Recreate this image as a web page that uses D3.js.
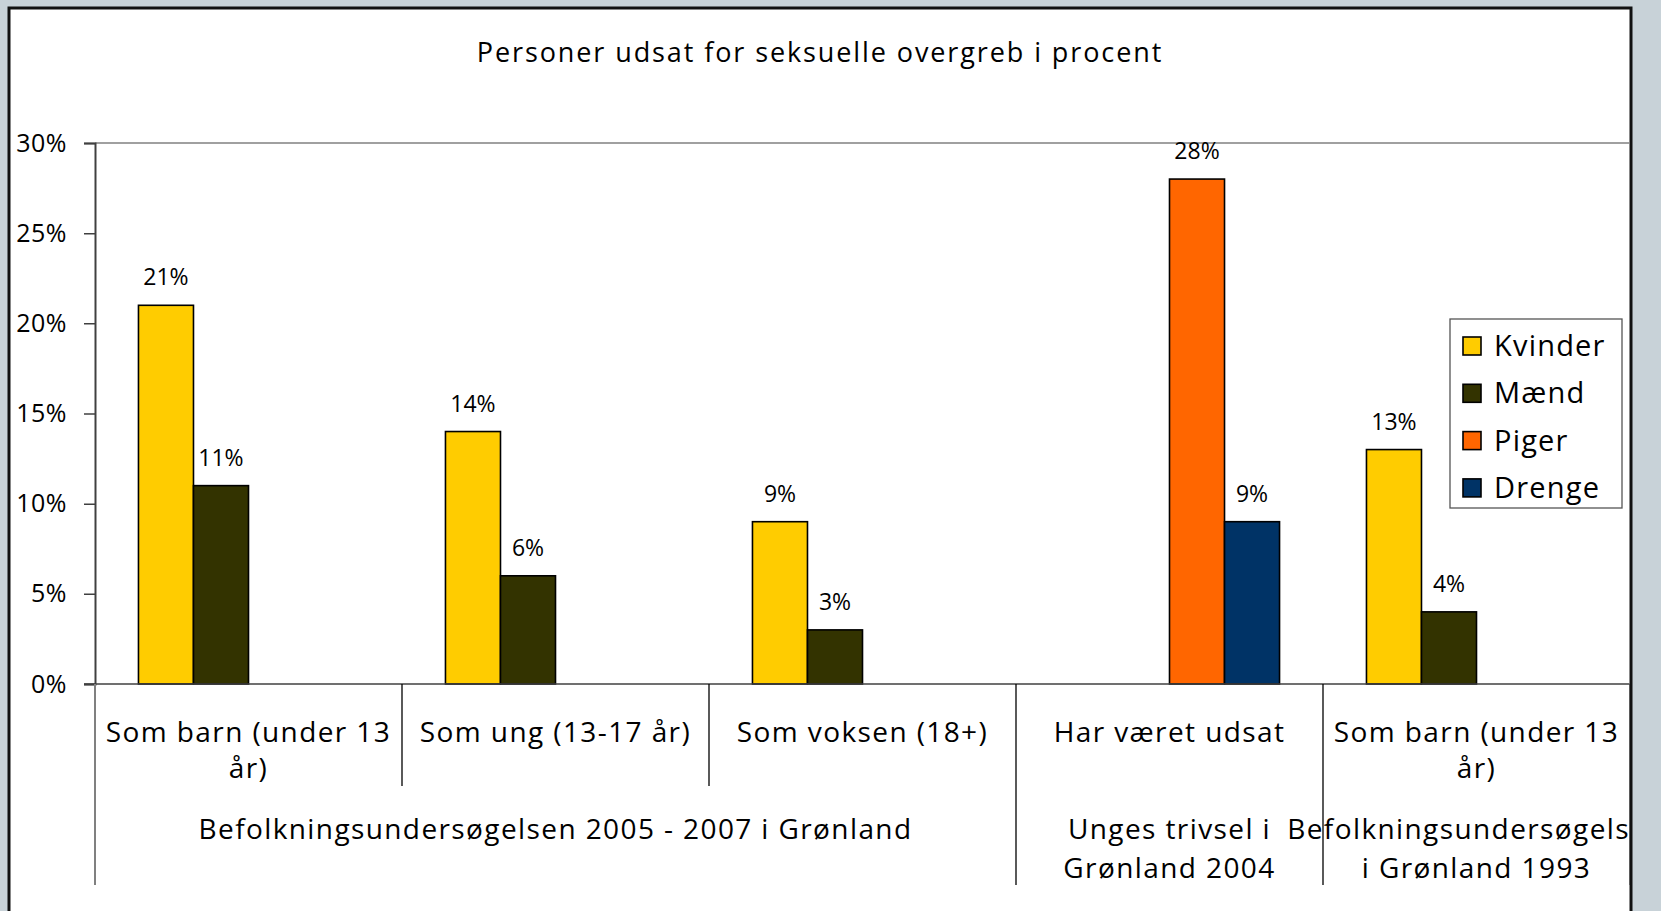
<!DOCTYPE html>
<html lang="da">
  <head>
    <meta charset="UTF-8" />
    <script src="https://d3js.org/d3.v7.min.js"></script>
    <title>Personer udsat for seksuelle overgreb</title>
    <style type="text/css">
      body {
        margin: 0;
        background: #c8d2d8;
      }
      svg text {
        font-family: 'Open Sans', sans-serif;
        fill: #000;
      }
      .chart-title {
        font-size: 27px;
        letter-spacing: 1.9px;
      }
      .tick text {
        font-size: 25px;
        letter-spacing: 0.5px;
      }
      .bar-label {
        font-size: 23px;
      }
      .cat-label,
      .group-label {
        font-size: 28px;
        letter-spacing: 1.4px;
      }
      .legend-text {
        font-size: 29px;
        letter-spacing: 1.2px;
      }
    </style>
  </head>
  <body>
    <svg width="1661" height="911"></svg>
  </body>
  <script type="text/javascript">
    // data
    const categories = ['Som barn (under 13 år)', 'Som ung (13-17 år)', 'Som voksen (18+)', 'Har været udsat', 'Som barn (under 13 år) 1993'];
    const categoryLines = [['Som barn (under 13', 'år)'], ['Som ung (13-17 år)'], ['Som voksen (18+)'], ['Har været udsat'], ['Som barn (under 13', 'år)']];
    const seriesNames = ['Kvinder', 'Mænd', 'Piger', 'Drenge'];
    const kvinder = [21, 14, 9, null, 13];
    const maend = [11, 6, 3, null, 4];
    const piger = [null, null, null, 28, null];
    const drenge = [null, null, null, 9, null];
    const groupLines = [
      ['Befolkningsundersøgelsen 2005 - 2007 i Grønland'],
      ['Unges trivsel i', 'Grønland 2004'],
      ['Befolkningsundersøgelsen', 'i Grønland 1993'],
    ];
    const groupSizes = [3, 1, 1];
    const yTicks = [0, 5, 10, 15, 20, 25, 30];
    const colors = ['#ffcc00', '#333300', '#ff6600', '#003366'];

    const seriesValues = [kvinder, maend, piger, drenge];

    const svg = d3.select('svg');

    // frame
    const frame = { left: 9, top: 8, right: 1631, bottom: 930 };
    svg
      .append('rect')
      .attr('x', frame.left)
      .attr('y', frame.top)
      .attr('width', frame.right - frame.left)
      .attr('height', frame.bottom - frame.top)
      .attr('fill', '#fff')
      .attr('stroke', '#111')
      .attr('stroke-width', 3);

    svg
      .append('clipPath')
      .attr('id', 'frame-clip')
      .append('rect')
      .attr('x', frame.left + 1.5)
      .attr('y', frame.top + 1.5)
      .attr('width', frame.right - frame.left - 3)
      .attr('height', frame.bottom - frame.top);

    const g = svg.append('g').attr('clip-path', 'url(#frame-clip)');

    const plot = { left: 95, right: 1630, top: 143, bottom: 684 };

    // title
    g.append('text')
      .attr('class', 'chart-title')
      .attr('x', (frame.left + frame.right) / 2)
      .attr('y', 53)
      .attr('dy', '0.35em')
      .attr('text-anchor', 'middle')
      .text('Personer udsat for seksuelle overgreb i procent');

    // scales
    const xScale = d3.scaleBand().domain(categories).range([plot.left, plot.right]).padding(0);
    const xInner = d3.scaleBand().domain(seriesNames).range([0, xScale.bandwidth()]).paddingInner(0).paddingOuter(0.79);
    const yScale = d3.scaleLinear().domain([0, 30]).range([plot.bottom, plot.top]);
    const colorScale = d3.scaleOrdinal().domain(seriesNames).range(colors);

    // top border line of plot area
    g.append('line')
      .attr('x1', plot.left)
      .attr('x2', plot.right)
      .attr('y1', yScale(30))
      .attr('y2', yScale(30))
      .attr('stroke', '#808080')
      .attr('stroke-width', 1.5);

    // y axis
    const yAxis = g
      .append('g')
      .attr('transform', `translate(${plot.left}, 0)`)
      .call(
        d3
          .axisLeft(yScale)
          .tickValues(yTicks)
          .tickSize(11)
          .tickPadding(17)
          .tickFormat((d) => d + '%')
      );
    yAxis.select('.domain').attr('stroke', '#404040').attr('stroke-width', 2);
    yAxis.selectAll('.tick line').attr('stroke', '#404040').attr('stroke-width', 1.5);
    yAxis.selectAll('.tick text').attr('fill', '#000').style('font-family', "'Open Sans', sans-serif");

    // bars
    const barData = [];
    seriesNames.forEach((s, si) => {
      categories.forEach((c, ci) => {
        const v = seriesValues[si][ci];
        if (v != null) barData.push({ series: s, category: c, value: v });
      });
    });

    g.selectAll('rect.bar')
      .data(barData)
      .enter()
      .append('rect')
      .attr('class', 'bar')
      .attr('x', (d) => xScale(d.category) + xInner(d.series))
      .attr('y', (d) => yScale(d.value))
      .attr('width', xInner.bandwidth())
      .attr('height', (d) => yScale(0) - yScale(d.value))
      .attr('fill', (d) => colorScale(d.series))
      .attr('stroke', '#000')
      .attr('stroke-width', 1.6);

    g.selectAll('text.bar-label')
      .data(barData)
      .enter()
      .append('text')
      .attr('class', 'bar-label')
      .attr('x', (d) => xScale(d.category) + xInner(d.series) + xInner.bandwidth() / 2)
      .attr('y', (d) => yScale(d.value) - 28)
      .attr('dy', '0.35em')
      .attr('text-anchor', 'middle')
      .text((d) => d.value + '%');

    // x axis baseline
    g.append('line')
      .attr('x1', plot.left - 11)
      .attr('x2', plot.right)
      .attr('y1', plot.bottom)
      .attr('y2', plot.bottom)
      .attr('stroke', '#404040')
      .attr('stroke-width', 1.5);

    // category separators
    const groupStarts = [];
    let acc = 0;
    groupSizes.forEach((n) => {
      groupStarts.push(acc);
      acc += n;
    });
    const shortBottom = 786;
    const longBottom = 885;
    d3.range(categories.length + 1).forEach((i) => {
      const x = i < categories.length ? xScale(categories[i]) : plot.right;
      const isGroupEdge = groupStarts.includes(i) || i === categories.length;
      g.append('line')
        .attr('x1', x)
        .attr('x2', x)
        .attr('y1', plot.bottom)
        .attr('y2', isGroupEdge ? longBottom : shortBottom)
        .attr('stroke', i === 0 ? '#808080' : '#000')
        .attr('stroke-width', i === 0 ? 2 : 1.3);
    });

    // category labels
    categories.forEach((c, ci) => {
      const t = g
        .append('text')
        .attr('class', 'cat-label')
        .attr('text-anchor', 'middle');
      categoryLines[ci].forEach((line, li) => {
        t.append('tspan')
          .attr('x', xScale(c) + xScale.bandwidth() / 2)
          .attr('y', 732 + li * 36)
          .attr('dy', '0.35em')
          .text(line);
      });
    });

    // group labels
    groupLines.forEach((lines, gi) => {
      const first = categories[groupStarts[gi]];
      const last = categories[groupStarts[gi] + groupSizes[gi] - 1];
      const cx = (xScale(first) + xScale(last) + xScale.bandwidth()) / 2;
      const t = g.append('text').attr('class', 'group-label').attr('text-anchor', 'middle');
      lines.forEach((line, li) => {
        t.append('tspan')
          .attr('x', cx)
          .attr('y', 829 + li * 39)
          .attr('dy', '0.35em')
          .text(line);
      });
    });

    // legend
    const legendG = g.append('g').attr('transform', 'translate(1450, 319)');
    legendG
      .append('rect')
      .attr('width', 172)
      .attr('height', 189)
      .attr('fill', '#fff')
      .attr('stroke', '#555')
      .attr('stroke-width', 1.3);

    const legendItems = legendG
      .selectAll('g.item')
      .data(seriesNames)
      .enter()
      .append('g')
      .attr('class', 'item')
      .attr('transform', (d, i) => `translate(0, ${27 + i * 47.3})`);

    legendItems
      .append('rect')
      .attr('x', 13)
      .attr('y', -9)
      .attr('width', 18)
      .attr('height', 18)
      .attr('fill', (d) => colorScale(d))
      .attr('stroke', '#000')
      .attr('stroke-width', 1.6);

    legendItems
      .append('text')
      .attr('class', 'legend-text')
      .attr('x', 44)
      .attr('dy', '0.35em')
      .text((d) => d);
  </script>
</html>
